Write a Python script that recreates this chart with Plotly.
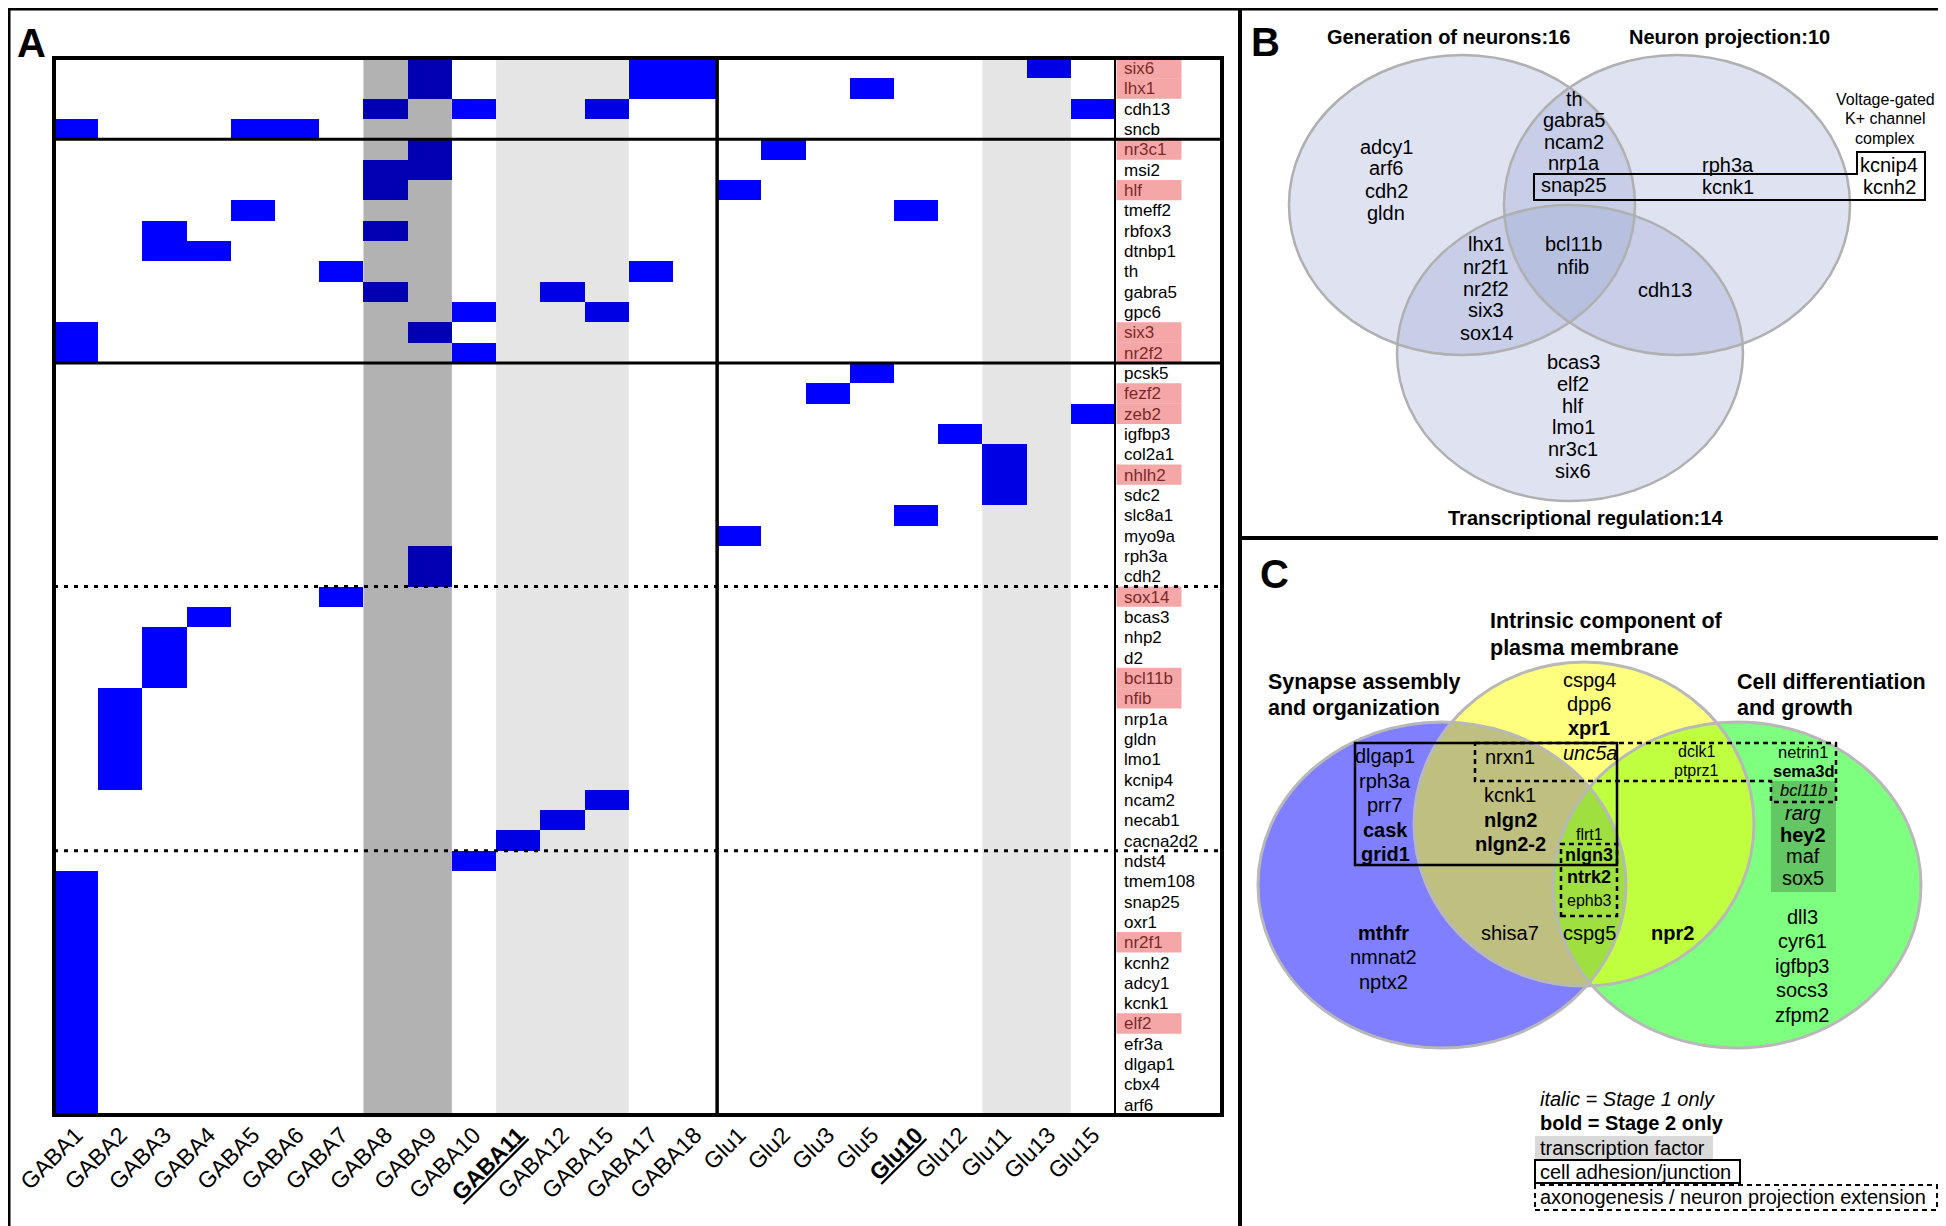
import plotly.graph_objects as go

W, H = 1946, 1226
FONT = "Liberation Sans, Arial, Helvetica, sans-serif"

# ---------------- DATA (panel A) ----------------
clusters = ["GABA1", "GABA2", "GABA3", "GABA4", "GABA5", "GABA6", "GABA7", "GABA8", "GABA9",
            "GABA10", "GABA11", "GABA12", "GABA15", "GABA17", "GABA18",
            "Glu1", "Glu2", "Glu3", "Glu5", "Glu10", "Glu12", "Glu11", "Glu13", "Glu15"]
underlined_clusters = ["GABA11", "Glu10"]

genes = ["six6", "lhx1", "cdh13", "sncb",
         "nr3c1", "msi2", "hlf", "tmeff2", "rbfox3", "dtnbp1", "th", "gabra5", "gpc6", "six3", "nr2f2",
         "pcsk5", "fezf2", "zeb2", "igfbp3", "col2a1", "nhlh2", "sdc2", "slc8a1", "myo9a", "rph3a", "cdh2",
         "sox14", "bcas3", "nhp2", "d2", "bcl11b", "nfib", "nrp1a", "gldn", "lmo1", "kcnip4", "ncam2",
         "necab1", "cacna2d2",
         "ndst4", "tmem108", "snap25", "oxr1", "nr2f1", "kcnh2", "adcy1", "kcnk1", "elf2", "efr3a",
         "dlgap1", "cbx4", "arf6"]

hits = {
    "six6": ["GABA9", "GABA17", "GABA18", "Glu13"],
    "lhx1": ["GABA9", "GABA17", "GABA18", "Glu5"],
    "cdh13": ["GABA8", "GABA10", "GABA15", "Glu15"],
    "sncb": ["GABA1", "GABA5", "GABA6"],
    "nr3c1": ["GABA9", "Glu2"],
    "msi2": ["GABA8", "GABA9"],
    "hlf": ["GABA8", "Glu1"],
    "tmeff2": ["GABA5", "Glu10"],
    "rbfox3": ["GABA3", "GABA8"],
    "dtnbp1": ["GABA3", "GABA4"],
    "th": ["GABA7", "GABA17"],
    "gabra5": ["GABA8", "GABA12"],
    "gpc6": ["GABA10", "GABA15"],
    "six3": ["GABA1", "GABA9"],
    "nr2f2": ["GABA1", "GABA10"],
    "pcsk5": ["Glu5"], "fezf2": ["Glu3"], "zeb2": ["Glu15"], "igfbp3": ["Glu12"],
    "col2a1": ["Glu11"], "nhlh2": ["Glu11"], "sdc2": ["Glu11"], "slc8a1": ["Glu10"],
    "myo9a": ["Glu1"], "rph3a": ["GABA9"], "cdh2": ["GABA9"],
    "sox14": ["GABA7"], "bcas3": ["GABA4"], "nhp2": ["GABA3"], "d2": ["GABA3"], "bcl11b": ["GABA3"],
    "nfib": ["GABA2"], "nrp1a": ["GABA2"], "gldn": ["GABA2"], "lmo1": ["GABA2"], "kcnip4": ["GABA2"],
    "ncam2": ["GABA15"], "necab1": ["GABA12"], "cacna2d2": ["GABA11"], "ndst4": ["GABA10"],
    "tmem108": ["GABA1"], "snap25": ["GABA1"], "oxr1": ["GABA1"], "nr2f1": ["GABA1"], "kcnh2": ["GABA1"],
    "adcy1": ["GABA1"], "kcnk1": ["GABA1"], "elf2": ["GABA1"], "efr3a": ["GABA1"], "dlgap1": ["GABA1"],
    "cbx4": ["GABA1"], "arf6": ["GABA1"],
}
tf_genes = ["six6", "lhx1", "nr3c1", "hlf", "six3", "nr2f2", "fezf2", "zeb2", "nhlh2", "sox14",
            "bcl11b", "nfib", "nr2f1", "elf2"]
solid_breaks_after = ["sncb", "nr2f2"]
dashed_breaks_after = ["cdh2", "cacna2d2"]
dark_band_clusters = ["GABA8", "GABA9"]
light_band_groups = [["GABA11", "GABA12", "GABA15"], ["Glu11", "Glu13"]]

# ---------------- DATA (panel B) ----------------
b_titles = ["Generation of neurons:16", "Neuron projection:10", "Transcriptional regulation:14"]
b_gen_only = ["adcy1", "arf6", "cdh2", "gldn"]
b_gen_proj = ["th", "gabra5", "ncam2", "nrp1a", "snap25"]
b_proj_only = ["rph3a", "kcnk1"]
b_kchannel_title = ["Voltage-gated", "K+ channel", "complex"]
b_kchannel = ["kcnip4", "kcnh2"]
b_gen_tr = ["lhx1", "nr2f1", "nr2f2", "six3", "sox14"]
b_all = ["bcl11b", "nfib"]
b_proj_tr = ["cdh13"]
b_tr_only = ["bcas3", "elf2", "hlf", "lmo1", "nr3c1", "six6"]

# ---------------- DATA (panel C) ----------------
c_title_syn = ["Synapse assembly", "and organization"]
c_title_mem = ["Intrinsic component of", "plasma membrane"]
c_title_diff = ["Cell differentiation", "and growth"]
c_mem_only = ["cspg4", "dpp6", "<b>xpr1</b>"]
c_mem_axon = ["<i>unc5a</i>"]
c_syn_mem_axon = ["nrxn1"]
c_syn_mem = ["kcnk1", "<b>nlgn2</b>", "<b>nlgn2-2</b>"]
c_all_top = ["flrt1"]
c_all_axon = ["<b>nlgn3</b>", "<b>ntrk2</b>", "ephb3"]
c_all_bottom = ["cspg5"]
c_syn_mem_bottom = ["shisa7"]
c_mem_diff = ["<b>npr2</b>"]
c_mem_diff_axon = ["dclk1", "ptprz1"]
c_syn_adh = ["dlgap1", "rph3a", "prr7", "<b>cask</b>", "<b>grid1</b>"]
c_syn_only = ["<b>mthfr</b>", "nmnat2", "nptx2"]
c_diff_axon = ["netrin1", "<b>sema3d</b>", "<i>bcl11b</i>"]
c_diff_tf = ["<i>rarg</i>", "<b>hey2</b>", "maf", "sox5"]
c_diff_only = ["dll3", "cyr61", "igfbp3", "socs3", "zfpm2"]
c_legend = ["<i>italic = Stage 1 only</i>", "<b>bold = Stage 2 only</b>", "transcription factor",
            "cell adhesion/junction", "axonogenesis / neuron projection extension"]


# ---------------- helpers ----------------
def px(x):
    return x / W


def py(y):
    return 1 - y / H


fig = go.Figure()
shapes = []


def text(x, y, s, size=20, xanchor="center", color="black"):
    fig.add_annotation(x=px(x), y=py(y), xref="paper", yref="paper", text=s, showarrow=False,
                       font=dict(size=size, color=color, family=FONT), xanchor=xanchor,
                       yanchor="middle", borderpad=0)


def stack(x, y0, dy, items, size=20, xanchor="center"):
    for i, s in enumerate(items):
        text(x, y0 + i * dy, s, size=size, xanchor=xanchor)


def prect(x0, y0, x1, y1, **kw):
    d = dict(type="rect", xref="paper", yref="paper", x0=px(x0), x1=px(x1), y0=py(y1), y1=py(y0))
    d.update(kw)
    shapes.append(d)


def pline(x0, y0, x1, y1, **kw):
    d = dict(type="line", xref="paper", yref="paper", x0=px(x0), x1=px(x1), y0=py(y0), y1=py(y1))
    d.update(kw)
    shapes.append(d)


def ppath(points, **kw):
    p = "M " + " L ".join(f"{px(a):.5f},{py(b):.5f}" for a, b in points) + " Z"
    d = dict(type="path", xref="paper", yref="paper", path=p)
    d.update(kw)
    shapes.append(d)


def pell(cx, cy, rx, ry, **kw):
    d = dict(type="circle", xref="paper", yref="paper", x0=px(cx - rx), x1=px(cx + rx),
             y0=py(cy + ry), y1=py(cy - ry))
    d.update(kw)
    shapes.append(d)


# ---------------- panel A heatmap ----------------
z = [[1 if c in hits[g] else None for c in clusters] for g in genes]
fig.add_trace(go.Heatmap(z=z, x=clusters, y=genes, zmin=0, zmax=1,
                         colorscale=[[0, "#0000ff"], [1, "#0000ff"]], showscale=False,
                         hoverinfo="skip", xgap=0, ygap=0))

ticktext = [f"<b><span style='text-decoration:underline'>{c}</span></b>" if c in underlined_clusters else c
            for c in clusters]

HX0, HX1, HXG, HY0, HY1 = 46, 1107, 1214, 50, 1107

# gray bands (multiply-like darkening overlay)
ci = clusters.index
shapes.append(dict(type="rect", xref="x", yref="paper", x0=ci(dark_band_clusters[0]) - 0.5,
                   x1=ci(dark_band_clusters[-1]) + 0.5, y0=py(HY1), y1=py(HY0),
                   fillcolor="black", opacity=0.30, line=dict(width=0), layer="above"))
for grp in light_band_groups:
    shapes.append(dict(type="rect", xref="x", yref="paper", x0=ci(grp[0]) - 0.5, x1=ci(grp[-1]) + 0.5,
                       y0=py(HY1), y1=py(HY0), fillcolor="black", opacity=0.10,
                       line=dict(width=0), layer="above"))

# TF highlights over gene labels
for g in tf_genes:
    i = genes.index(g)
    shapes.append(dict(type="rect", xref="paper", yref="y", x0=px(1108.5), x1=px(1173.5),
                       y0=i - 0.5, y1=i + 0.5, fillcolor="rgb(235,80,80)", opacity=0.5,
                       line=dict(width=0), layer="above"))

for g in solid_breaks_after:
    i = genes.index(g) + 0.5
    shapes.append(dict(type="line", xref="paper", yref="y", x0=px(HX0), x1=px(HXG), y0=i, y1=i,
                       line=dict(color="black", width=3), layer="above"))
for g in dashed_breaks_after:
    i = genes.index(g) + 0.5
    shapes.append(dict(type="line", xref="paper", yref="y", x0=px(HX0), x1=px(HXG), y0=i, y1=i,
                       line=dict(color="black", width=3, dash="4px,6px"), layer="above"))

glu_start = [c for c in clusters if c.startswith("Glu")][0]
shapes.append(dict(type="line", xref="x", yref="paper", x0=ci(glu_start) - 0.5, x1=ci(glu_start) - 0.5,
                   y0=py(HY0), y1=py(HY1), line=dict(color="black", width=3.5), layer="above"))
pline(HX1, HY0, HX1, HY1, line=dict(color="black", width=2), layer="above")
prect(HX0, HY0, HXG, HY1, line=dict(color="black", width=4), layer="above")

text(23, 35, "<b>A</b>", size=40)

# ---------------- panel borders ----------------
prect(1, 1, 1945, 1225, line=dict(color="black", width=3), layer="above")
pline(1232, 0, 1232, 1226, line=dict(color="black", width=4), layer="above")
pline(1232, 530, 1946, 530, line=dict(color="black", width=4), layer="above")

# ---------------- panel B ----------------
bfill = "rgb(150,160,210)"
b_circles = [(1454, 197, 173, 150), (1669, 197, 173, 150), (1562, 345, 173, 148)]
for cx, cy, rx, ry in b_circles:
    pell(cx, cy, rx, ry, fillcolor=bfill, opacity=0.30, line=dict(width=0), layer="below")
for cx, cy, rx, ry in b_circles:
    pell(cx, cy, rx, ry, fillcolor="rgba(0,0,0,0)", line=dict(color="#b0b0b0", width=2.5), layer="below")

text(1257, 34, "<b>B</b>", size=40)
text(1440, 29, f"<b>{b_titles[0]}</b>", size=20)
text(1721, 29, f"<b>{b_titles[1]}</b>", size=20)
text(1577, 510, f"<b>{b_titles[2]}</b>", size=20)
stack(1378, 138.5, 22, b_gen_only)
stack(1566, 90.5, 21.6, b_gen_proj)
stack(1720, 157, 22, b_proj_only)
stack(1877, 91, 19.5, b_kchannel_title, size=16)
stack(1881, 157, 22, b_kchannel)
stack(1478, 236.5, 22, b_gen_tr)
stack(1565, 236.5, 22, b_all)
stack(1657, 282, 22, b_proj_tr)
stack(1565, 354, 21.8, b_tr_only)
ppath([(1526, 166), (1849, 166), (1849, 144), (1917, 144), (1917, 192), (1526, 192)],
      line=dict(color="black", width=2), layer="above")

# ---------------- panel C ----------------
c_circles = [(1434, 877, 184, 163), (1729, 877, 184, 163), (1576, 816, 170, 162)]
for (cx, cy, rx, ry), col in zip(c_circles, ["#0000ff", "#00ff00", "#ffff00"]):
    pell(cx, cy, rx, ry, fillcolor=col, opacity=0.5, line=dict(width=0), layer="below")
for cx, cy, rx, ry in c_circles:
    pell(cx, cy, rx, ry, fillcolor="rgba(0,0,0,0)", line=dict(color="#b8b8b8", width=3), layer="below")

# transcription-factor shading
prect(1763, 773, 1828, 884, fillcolor="black", opacity=0.22, line=dict(width=0), layer="below")
# cell adhesion box
prect(1347, 735, 1609, 857, line=dict(color="black", width=2.5), layer="above")
# axonogenesis dashed boxes
ppath([(1467, 735), (1828, 735), (1828, 794), (1763, 794), (1763, 773), (1467, 773)],
      line=dict(color="black", width=2.5, dash="5px,4px"), layer="above")
prect(1553, 836, 1609, 908, line=dict(color="black", width=2.5, dash="5px,4px"), layer="above")

text(1266, 566, "<b>C</b>", size=40)
stack(1481, 613, 26.5, [f"<b>{s}</b>" for s in c_title_mem], size=21.5, xanchor="left")
stack(1259, 674, 26.5, [f"<b>{s}</b>" for s in c_title_syn], size=21.5, xanchor="left")
stack(1728, 674, 26.5, [f"<b>{s}</b>" for s in c_title_diff], size=21.5, xanchor="left")

stack(1581, 672, 24, c_mem_only)
stack(1582, 745, 24, c_mem_axon)
stack(1502, 748.5, 24, c_syn_mem_axon)
stack(1502, 787, 24.5, c_syn_mem)
stack(1581, 826, 22, c_all_top, size=16)
stack(1581, 847, 22, c_all_axon[:2], size=18)
stack(1581, 892.6, 22, c_all_axon[2:], size=16)
stack(1581, 924.5, 24, c_all_bottom)
stack(1502, 924.5, 24, c_syn_mem_bottom)
stack(1664, 924.5, 24, c_mem_diff)
stack(1377, 748, 24.5, c_syn_adh)
stack(1375, 924.5, 24.5, c_syn_only)
stack(1688, 743.6, 19.2, c_mem_diff_axon, size=16)
stack(1795, 743.6, 19.2, c_diff_axon, size=16.5)
stack(1795, 805, 21.7, c_diff_tf)
stack(1794, 909, 24.4, c_diff_only)

# legend
prect(1527, 1128, 1705, 1151, fillcolor="#d9d9d9", line=dict(width=0), layer="below")
prect(1527, 1152, 1732, 1175, line=dict(color="black", width=2), layer="above")
prect(1527, 1177, 1929, 1202, line=dict(color="black", width=2, dash="5px,4px"), layer="above")
for s, yy in zip(c_legend, [1091, 1115, 1139.5, 1164, 1189]):
    text(1531, yy, s, size=20, xanchor="left")

fig.update_layout(
    width=W, height=H, autosize=False,
    margin=dict(l=0, r=0, t=0, b=0, pad=0),
    paper_bgcolor="white", plot_bgcolor="rgba(0,0,0,0)",
    font=dict(family=FONT, color="black"),
    showlegend=False,
    shapes=shapes,
    xaxis=dict(type="category", categoryorder="array", categoryarray=clusters,
               domain=[px(HX0), px(HX1)], range=[-0.5, len(clusters) - 0.5],
               tickmode="array", tickvals=clusters, ticktext=ticktext, tickangle=-45,
               tickfont=dict(size=23, color="black", family=FONT), ticks="", ticklen=0,
               showgrid=False, zeroline=False, showline=False, automargin=False,
               ticklabelstandoff=1, fixedrange=True),
    yaxis=dict(type="category", categoryorder="array", categoryarray=genes,
               domain=[py(HY1), py(HY0)], range=[len(genes) - 0.5, -0.5], side="right",
               tickmode="array", tickvals=genes, ticktext=genes,
               tickfont=dict(size=17, color="black", family=FONT), ticks="", ticklen=0,
               showgrid=False, zeroline=False, showline=False, automargin=False,
               ticklabelstandoff=8, fixedrange=True),
)

fig.write_html("out.html")
